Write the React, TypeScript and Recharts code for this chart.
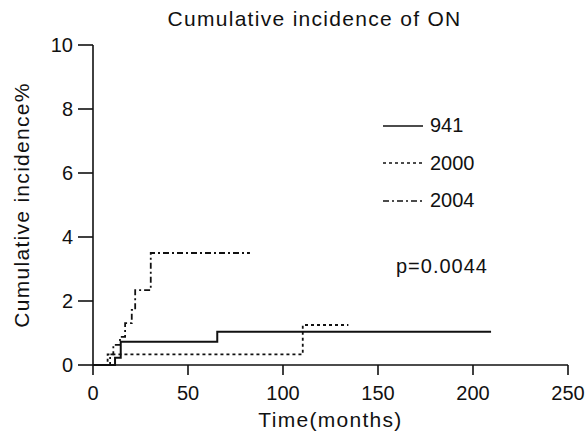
import { LineChart, Line, XAxis, YAxis, Legend } from 'recharts'

// step points (months, cumulative incidence %)
const months941 = [0, 11.6, 14.6, 65.4, 209.5]
const pct941 = [0, 0.23, 0.73, 1.04, 1.04]

const months2000 = [0, 7.7, 110.4, 134.4]
const pct2000 = [0, 0.33, 1.25, 1.25]

const months2004 = [0, 9, 10.7, 14.2, 16.9, 20.4, 22.2, 30.4, 82.6]
const pct2004 = [0, 0.33, 0.63, 0.88, 1.31, 1.72, 2.34, 3.5, 3.5]

const xTicks = [0, 50, 100, 150, 200, 250]
const yTicks = [0, 2, 4, 6, 8, 10]

const seriesNames = ['941', '2000', '2004']
const seriesDash = ['', '3 3', '6 3 2 3']

const toPoints = (t: number[], v: number[]) => t.map((m, i) => ({ t: m, v: v[i] }))

const seriesData = [
  toPoints(months941, pct941),
  toPoints(months2000, pct2000),
  toPoints(months2004, pct2004),
]

const font = '"Liberation Sans", Arial, sans-serif'

function LegendBox() {
  return (
    <div style={{ fontFamily: font, fontSize: 20, color: '#111' }}>
      {seriesNames.map((name, i) => (
        <div key={name} style={{ display: 'flex', alignItems: 'center', height: 37.5 }}>
          <svg width={40} height={6} style={{ display: 'block' }}>
            <line x1={0} x2={40} y1={3} y2={3} stroke="#111" strokeWidth={1.6} strokeDasharray={seriesDash[i] || undefined} />
          </svg>
          <span style={{ marginLeft: 7 }}>{name}</span>
        </div>
      ))}
    </div>
  )
}

export default function App() {
  return (
    <div style={{ position: 'absolute', left: 0, top: 0, width: 587, height: 438, background: '#fff', fontFamily: font }}>
      <div
        style={{
          position: 'absolute', left: 0, top: 7, width: 629, textAlign: 'center',
          fontSize: 21, letterSpacing: 1.3, color: '#111', whiteSpace: 'nowrap',
        }}
      >
        Cumulative incidence of ON
      </div>
      <div style={{ position: 'absolute', left: 396, top: 255, fontSize: 20, letterSpacing: 1, color: '#111' }}>
        p=0.0044
      </div>
      <LineChart width={587} height={438} margin={{ top: 45, right: 19, bottom: 0, left: 0 }}>
        <XAxis
          type="number"
          dataKey="t"
          domain={[0, 250]}
          ticks={xTicks}
          height={73}
          tickSize={10}
          tickMargin={11}
          stroke="#111"
          strokeWidth={1.6}
          tick={{ fill: '#111', fontSize: 20, fontFamily: font }}
          label={{ value: 'Time(months)', position: 'insideBottom', offset: 11, fill: '#111', fontSize: 21, fontFamily: font, letterSpacing: 1.3 }}
        />
        <YAxis
          type="number"
          domain={[0, 10]}
          ticks={yTicks}
          width={93}
          tickSize={15}
          tickMargin={5}
          stroke="#111"
          strokeWidth={1.6}
          tick={{ fill: '#111', fontSize: 20, fontFamily: font }}
          label={{
            value: 'Cumulative incidence%', angle: -90, position: 'insideLeft', offset: 22,
            fill: '#111', fontSize: 21, fontFamily: font, letterSpacing: 1.3, style: { textAnchor: 'middle' },
          }}
        />
        <Legend
          layout="vertical"
          align="center"
          verticalAlign="middle"
          content={() => <LegendBox />}
          wrapperStyle={{ position: 'absolute', left: 383, top: 107, width: 120 }}
        />
        {seriesNames.map((name, i) => (
          <Line
            key={name}
            name={name}
            data={seriesData[i]}
            dataKey="v"
            type="stepAfter"
            stroke="#111"
            strokeWidth={i === 0 ? 2 : 1.8}
            strokeDasharray={seriesDash[i] || undefined}
            dot={false}
            activeDot={false}
            isAnimationActive={false}
          />
        ))}
      </LineChart>
    </div>
  )
}
